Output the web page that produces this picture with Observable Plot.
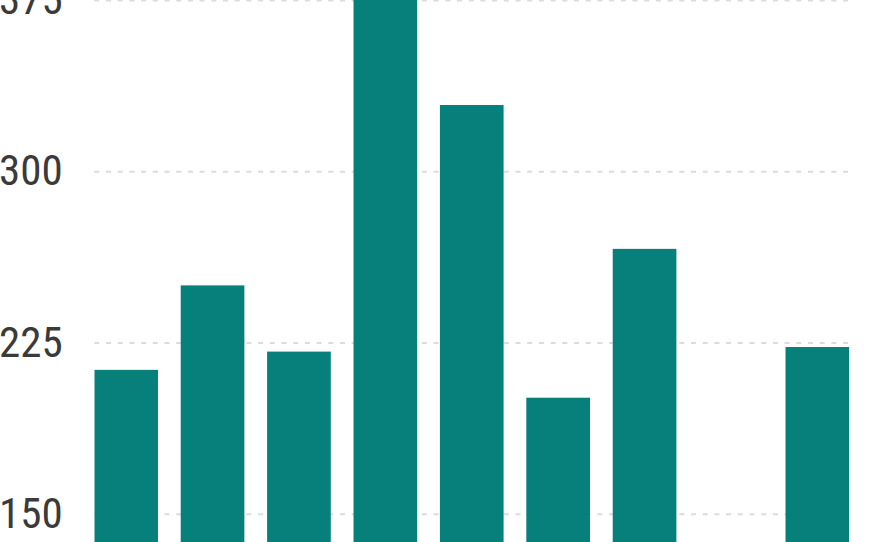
<!DOCTYPE html>
<html>
<head>
<meta charset="utf-8">
<script src="https://cdn.jsdelivr.net/npm/d3@7"></script>
<script src="https://cdn.jsdelivr.net/npm/@observablehq/plot@0.6"></script>
<style>
  html, body { margin: 0; padding: 0; background: #fff; overflow: hidden; }
  #chart svg { display: block; }
</style>
</head>
<body>
<div id="chart"></div>
<script>
const categories = ["1", "2", "3", "4", "5", "6", "7", "8", "9"];
const values = [213, 250, 221, 390, 329, 200.8, 266, null, 223];
const yTicks = [150, 225, 300, 375];
const yDomain = [137.6, 375];

const data = categories.map((c, i) => ({category: c, value: values[i]}))
  .filter(d => d.value != null);

const chart = Plot.plot({
  width: 880,
  height: 542,
  marginTop: 0,
  marginBottom: 0,
  marginLeft: 94.3,
  marginRight: 30.8,
  style: {background: "#fff"},
  x: {domain: categories, paddingInner: 0.263, paddingOuter: 0, round: false, axis: null},
  y: {domain: yDomain, axis: null},
  marks: [
    Plot.gridY(yTicks, {stroke: "#dcdcdc", strokeOpacity: 1, strokeWidth: 2, strokeDasharray: "5,6.7"}),
    Plot.axisY(yTicks, {
      tickSize: 0,
      tickPadding: 32,
      fontSize: 43,
      fill: "#3a3a3a",
      fontFamily: "'Roboto Condensed', 'Liberation Sans Narrow', 'Arial Narrow', 'DejaVu Sans Condensed', sans-serif",
      label: null
    }),
    Plot.barY(data, {x: "category", y: "value", fill: "#077f7b", clip: true})
  ]
});
document.getElementById("chart").appendChild(chart);
</script>
</body>
</html>
